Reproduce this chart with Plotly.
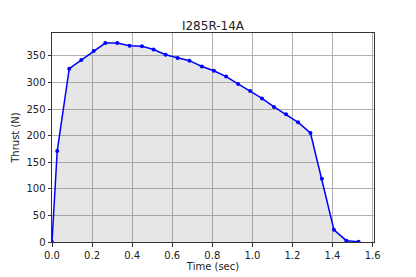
import plotly.graph_objects as go

time_s = [0.0, 0.026, 0.086, 0.146, 0.208, 0.266, 0.326, 0.387, 0.449, 0.507, 0.567,
          0.627, 0.686, 0.748, 0.808, 0.869, 0.929, 0.989, 1.048, 1.108, 1.168, 1.228,
          1.290, 1.347, 1.407, 1.469, 1.53]
thrust_n = [0, 171, 326, 342, 359, 374, 374, 369, 368, 362, 352,
            346, 341, 330, 322, 311, 297, 284, 270, 254, 240, 225,
            205, 119, 23, 2.5, 0.5]
x_ticks = [0.0, 0.2, 0.4, 0.6, 0.8, 1.0, 1.2, 1.4, 1.6]
y_ticks = [0, 50, 100, 150, 200, 250, 300, 350]

fig = go.Figure()
fig.add_trace(go.Scatter(x=time_s, y=thrust_n, mode="lines", fill="tozeroy",
                         fillcolor="rgba(128,128,128,0.2)", line=dict(width=0),
                         hoverinfo="skip", showlegend=False))
fig.add_trace(go.Scatter(x=time_s, y=thrust_n, mode="lines+markers",
                         line=dict(color="#0000ff", width=1.5),
                         marker=dict(color="#0000ff", size=4), showlegend=False))

axis_common = dict(showgrid=True, gridcolor="#b0b0b0", gridwidth=0.8,
                   showline=True, linecolor="#333333", linewidth=1, mirror=True,
                   ticks="outside", ticklen=3.5, tickcolor="#333333", zeroline=False,
                   automargin=False,
                   tickfont=dict(family="DejaVu Sans", size=10, color="#222222"))
fig.update_xaxes(range=[0, 1.607], tickvals=x_ticks,
                 ticktext=[f"{v:.1f}" for v in x_ticks],
                 title=dict(text="Time (sec)", standoff=1,
                            font=dict(family="DejaVu Sans", size=10, color="#222222")),
                 **axis_common)
fig.update_yaxes(range=[0, 393], tickvals=y_ticks,
                 title=dict(text="Thrust (N)", standoff=4,
                            font=dict(family="DejaVu Sans", size=10, color="#222222")),
                 **axis_common)
fig.update_layout(
    width=416, height=277,
    margin=dict(l=52, r=42, t=33, b=35),
    paper_bgcolor="white", plot_bgcolor="white",
    title=dict(text="I285R-14A", x=0.5, xref="paper", xanchor="center",
               y=1 - 26 / 277, yanchor="middle",
               font=dict(family="DejaVu Sans", size=12, color="#222222")),
)
fig.write_html("out.html")
